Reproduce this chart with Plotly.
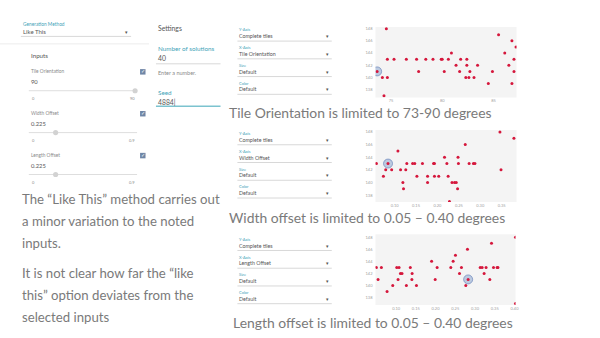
import plotly.graph_objects as go

# ---------------- data ----------------
tile_orientation = [73.65, 74.16, 74.32, 74.55, 74.65, 74.65, 75.3, 76.5, 77.5, 77.7, 78.4, 79.1, 79.9, 80.0,
                    80.2, 80.6, 80.9, 81.35, 81.7, 81.8, 82.3, 82.4, 82.4, 82.6, 82.7, 83.1, 83.45, 84.5,
                    84.9, 85.5, 86.1, 86.5, 86.8, 86.8, 87.0, 87.0, 87.2]
tiles_1 = [141, 140, 137, 148, 143, 140, 143, 143, 143, 141, 143, 143, 143, 143,
           141, 143, 144, 142, 141, 143, 140, 143, 142, 140, 141, 140, 142, 139,
           141, 147, 144, 142, 146, 139, 143, 141, 145]
sel_1 = 0

width_offset = [0.0576, 0.0738, 0.0792, 0.0846, 0.0931, 0.1077, 0.1139, 0.1193, 0.1208, 0.126, 0.1285,
                0.142, 0.147, 0.152, 0.165, 0.177, 0.177, 0.191, 0.193, 0.193, 0.203, 0.2165, 0.222,
                0.225, 0.228, 0.234, 0.240, 0.244, 0.247, 0.248, 0.249, 0.265, 0.274, 0.284, 0.2875,
                0.346, 0.3485, 0.3786]
tiles_2 = [143, 141, 142, 143, 142, 145, 142, 140, 139, 142, 143,
           143, 143, 141, 143, 141, 140, 143, 143, 141, 141, 144, 143,
           141, 137, 140, 140, 140, 139, 144, 143, 146, 143, 143, 143,
           148, 142, 147]
sel_2 = 3

length_offset = [0.0501, 0.0544, 0.0628, 0.0772, 0.0915, 0.1017, 0.1076, 0.105, 0.111, 0.115, 0.126,
                 0.136, 0.1406, 0.140, 0.1516, 0.190, 0.199, 0.204, 0.2386, 0.2445, 0.2504, 0.2606,
                 0.2656, 0.2766, 0.2808, 0.2825, 0.313, 0.318, 0.323, 0.328, 0.3375, 0.3417, 0.3468,
                 0.356, 0.358, 0.4025, 0.4025]
tiles_3 = [143, 141, 143, 139, 140, 143, 143, 141, 142, 142, 140,
           143, 142, 141, 140, 144, 141, 143, 143, 144, 145, 142,
           143, 140, 146, 141, 143, 143, 142, 143, 141, 147, 143,
           143, 143, 148, 137]
sel_3 = 25

y_ticks = [138, 140, 142, 144, 146, 148]
x1_ticks = [75, 80, 85]
x2_ticks = [0.10, 0.15, 0.20, 0.25, 0.30, 0.35]
x3_ticks = [0.10, 0.15, 0.20, 0.25, 0.30, 0.35, 0.40]

captions = ["Tile Orientation is limited to 73-90 degrees",
            "Width offset is limited to 0.05 \u2013 0.40 degrees",
            "Length offset is limited to 0.05 \u2013 0.40 degrees"]
x_axis_names = ["Tile Orientation", "Width Offset", "Length Offset"]
note_lines = ["The \u201cLike This\u201d method carries out", "a minor variation to the noted", "inputs.",
              "It is not clear how far the \u201clike", "this\u201d option deviates from the", "selected inputs"]

# ---------------- figure ----------------
W, H = 600, 338
def px(x): return x / W
def py(y): return 1 - y / H

RED = "#d5173c"
TEAL = "#3fa3b8"
GREY = "#8a8a8a"
DARK = "#555555"
LINE = "#d8d8d8"
FONT = "Lato"

fig = go.Figure()

series = [(tile_orientation, tiles_1, sel_1), (width_offset, tiles_2, sel_2), (length_offset, tiles_3, sel_3)]
for i, (xs, ys, s) in enumerate(series):
    ax = "" if i == 0 else str(i + 1)
    fig.add_trace(go.Scatter(x=[xs[s]], y=[ys[s]], mode="markers", xaxis="x" + ax, yaxis="y" + ax,
                             marker=dict(size=9, color="rgba(120,150,200,0.45)",
                                         line=dict(color="rgba(90,120,180,0.6)", width=1)),
                             hoverinfo="skip", showlegend=False))
    fig.add_trace(go.Scatter(x=xs, y=ys, mode="markers", xaxis="x" + ax, yaxis="y" + ax,
                             marker=dict(size=3, color=RED), showlegend=False))

# plot boxes (pixel coords): left, right, top, bottom
boxes = [(378, 520, 26, 96.7), (378, 520, 129.3, 201.7), (378, 519, 234, 305)]
xranges = [[73.49, 87.25], [0.0553, 0.3847], [0.0478, 0.4026]]
yranges = [[136.74, 148.28], [136.9, 148.32], [136.73, 148.5]]
xticks = [x1_ticks, x2_ticks, x3_ticks]
xfmt = ["d", ".2f", ".2f"]
tickfont = dict(size=4, color="#a0a0a0", family=FONT)
for i, (l, r, t, b) in enumerate(boxes):
    ax = "" if i == 0 else str(i + 1)
    fig.update_layout(**{
        "xaxis" + ax: dict(domain=[px(l), px(r)], range=xranges[i], anchor="y" + ax,
                           tickvals=xticks[i], tickformat=xfmt[i], showgrid=False, zeroline=False,
                           showline=False, ticks="", tickfont=tickfont, ticklabelstandoff=0),
        "yaxis" + ax: dict(domain=[py(b), py(t)], range=yranges[i], anchor="x" + ax,
                           tickvals=y_ticks, showgrid=False, zeroline=False, showline=False,
                           ticks="", tickfont=tickfont, ticklabelstandoff=2),
    })

shapes = []
annotations = []

def text(x, y, s, size, color, bold=False, anchor="left"):
    annotations.append(dict(x=px(x), y=py(y), xref="paper", yref="paper", text=("<b>%s</b>" % s) if bold else s,
                            showarrow=False, xanchor=anchor, yanchor="middle",
                            font=dict(size=size, color=color, family=FONT)))

def hline(x0, x1, y, color=LINE, width=1):
    shapes.append(dict(type="line", xref="paper", yref="paper", x0=px(x0), x1=px(x1), y0=py(y), y1=py(y),
                       line=dict(color=color, width=width)))

# plot backgrounds
for (l, r, t, b) in boxes:
    shapes.append(dict(type="rect", xref="paper", yref="paper", x0=px(l), x1=px(r), y0=py(b), y1=py(t),
                       fillcolor="#f4f4f4", line=dict(width=0), layer="below"))

# ---- left panel ----
text(21, 23, "Generation Method", 4.8, TEAL)
text(21, 30.5, "Like This", 6, DARK)
text(124, 31, "\u25be", 5, DARK)
hline(21, 132, 35.5)
hline(0, 150, 43, color="#ececec")
text(29, 55, "Inputs", 6.2, DARK)

sliders = [("Tile Orientation", "90", 70, 136, "90"),
           ("Width Offset", "0.225", 112, 56, "0.9"),
           ("Length Offset", "0.225", 154, 56, "0.9")]
for label, val, y0, handle, maxlab in sliders:
    text(29, y0, label, 4.8, GREY)
    shapes.append(dict(type="rect", xref="paper", yref="paper", x0=px(141), x1=px(146.5), y0=py(y0 + 3.8),
                       y1=py(y0 - 1.7), fillcolor="#6f86a6", line=dict(width=0)))
    text(143.7, y0 + 1, "\u2713", 4.5, "white", anchor="center")
    text(29, y0 + 11, val, 5.8, DARK)
    hline(29, 138, y0 + 20, color="#dedede")
    shapes.append(dict(type="circle", xref="paper", yref="paper", x0=px(handle - 2.6), x1=px(handle + 2.6),
                       y0=py(y0 + 22.6), y1=py(y0 + 17.4), fillcolor="#d2d2d2", line=dict(width=0)))
    text(30, y0 + 28, "0", 4, GREY)
    text(138, y0 + 28, maxlab, 4, GREY, anchor="right")

note_y = [199, 221, 243, 273, 295, 317]
for s, y in zip(note_lines, note_y):
    text(20, y, s, 13.2, "#7a7a7a")

# ---- settings ----
text(157, 27.5, "Settings", 6.8, DARK)
text(157, 47.5, "Number of solutions", 6.3, TEAL)
text(157, 57, "40", 6.8, DARK)
hline(157, 222, 63)
text(157, 72, "Enter a number.", 5.5, GREY)
text(157, 91.5, "Seed", 6.3, TEAL)
text(157, 101.5, "4884|", 6.8, DARK)
hline(157, 222, 105.5, color="#7cc3cf", width=1.5)

# ---- dropdown blocks ----
block_tops = [29, 133, 239]
for top, xname in zip(block_tops, x_axis_names):
    rows = [("Y-Axis", "Complete tiles"), ("X-Axis", xname), ("Size", "Default"), ("Color", "Default")]
    for k, (lab, val) in enumerate(rows):
        y = top + k * 17.8
        text(239, y, lab, 4, TEAL)
        text(239, y + 6.3, val, 5.3, DARK)
        text(330, y + 6.8, "\u25be", 4.5, DARK, anchor="center")
        hline(239, 334, y + 11.2)

cap_pos = [(229, 111.5), (229, 217), (233, 322.5)]
for s, (x, y) in zip(captions, cap_pos):
    text(x, y, s, 13.9, "#7a7a7a")

fig.update_layout(width=W, height=H, margin=dict(l=0, r=0, t=0, b=0), paper_bgcolor="white",
                  plot_bgcolor="rgba(0,0,0,0)", shapes=shapes, annotations=annotations,
                  font=dict(family=FONT))
fig.write_html("out.html")
